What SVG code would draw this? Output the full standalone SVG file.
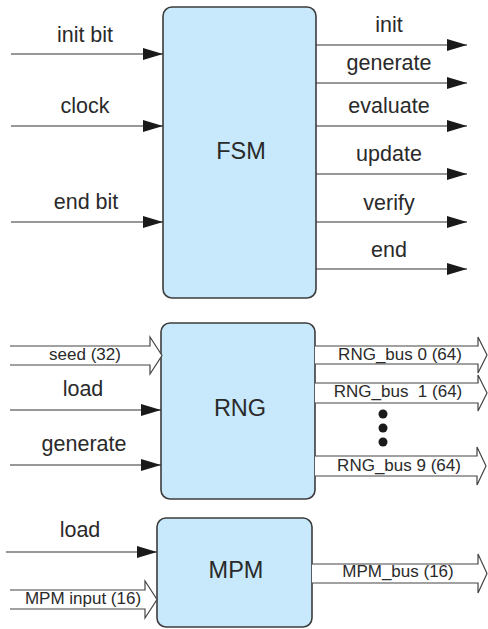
<svg xmlns="http://www.w3.org/2000/svg" width="488" height="629" viewBox="0 0 488 629">
<defs>
<marker id="arr" markerUnits="userSpaceOnUse" markerWidth="20" markerHeight="12" refX="20" refY="6" orient="auto">
<path d="M0,0 L20,6 L0,12 Z" fill="#1a1a1a"/>
</marker>
<style>
.box{fill:#c7e9fb;stroke:#3c3c3c;stroke-width:1.6}
.ttl{font-family:"Liberation Sans",Arial,sans-serif;font-size:23.5px;fill:#2a2a2a;text-anchor:middle}
.lbl{font-family:"Liberation Sans",Arial,sans-serif;font-size:21.5px;fill:#2a2a2a;text-anchor:middle}
.bl{font-family:"Liberation Sans",Arial,sans-serif;font-size:17px;fill:#2a2a2a;text-anchor:middle;white-space:pre}
.w{stroke:#333;stroke-width:1.2;fill:none}
.bus{stroke:#444;stroke-width:1.2;fill:#fff}
</style>
</defs>
<rect width="488" height="629" fill="#fff"/>

<g id="fsm">
<rect class="box" x="163" y="7" width="153" height="291" rx="9"/>
<text class="ttl" x="241" y="159">FSM</text>
</g>
<g id="rng">
<rect class="box" x="161" y="323" width="154" height="176" rx="9"/>
<text class="ttl" x="240" y="416">RNG</text>
</g>
<g id="mpm">
<rect class="box" x="157" y="518" width="155" height="109" rx="9"/>
<text class="ttl" x="236" y="578">MPM</text>
</g>

<g id="connectors">
<line class="w" x1="11" y1="54" x2="163" y2="54" marker-end="url(#arr)"/>
<line class="w" x1="11" y1="126" x2="163" y2="126" marker-end="url(#arr)"/>
<line class="w" x1="11" y1="222" x2="163" y2="222" marker-end="url(#arr)"/>
<line class="w" x1="316" y1="45" x2="467" y2="45" marker-end="url(#arr)"/>
<line class="w" x1="316" y1="83" x2="467" y2="83" marker-end="url(#arr)"/>
<line class="w" x1="316" y1="126" x2="467" y2="126" marker-end="url(#arr)"/>
<line class="w" x1="316" y1="174" x2="467" y2="174" marker-end="url(#arr)"/>
<line class="w" x1="316" y1="222" x2="467" y2="222" marker-end="url(#arr)"/>
<line class="w" x1="316" y1="269" x2="467" y2="269" marker-end="url(#arr)"/>
<path class="bus" d="M10,346 H150 V337 L162,355.5 L150,374 V365 H10"/>
<line class="w" x1="10" y1="410" x2="161" y2="410" marker-end="url(#arr)"/>
<line class="w" x1="10" y1="465" x2="161" y2="465" marker-end="url(#arr)"/>
<path class="bus" d="M315,346 H478 V337 L487,355 L478,373 V364 H315"/>
<path class="bus" d="M315,383 H478 V375 L487,393 L478,411 V403 H315"/>
<path class="bus" d="M315,456 H477 V447 L486,466 L477,485 V476 H315"/>
<circle cx="383" cy="414" r="4.5" fill="#1a1a1a"/>
<circle cx="383" cy="428" r="4.5" fill="#1a1a1a"/>
<circle cx="383" cy="442" r="4.5" fill="#1a1a1a"/>
<line class="w" x1="6" y1="552" x2="157" y2="552" marker-end="url(#arr)"/>
<path class="bus" d="M10,590 H145 V581 L157,599.5 L145,618 V609 H10"/>
<path class="bus" d="M312,564 H478 V554 L487,573.5 L478,593 V583 H312"/>
</g>

<g id="labels">
<text class="lbl" x="85" y="42">init bit</text>
<text class="lbl" x="85" y="113">clock</text>
<text class="lbl" x="86" y="209">end bit</text>
<text class="lbl" x="389" y="32">init</text>
<text class="lbl" x="389" y="70">generate</text>
<text class="lbl" x="389" y="113">evaluate</text>
<text class="lbl" x="389" y="161">update</text>
<text class="lbl" x="389" y="210">verify</text>
<text class="lbl" x="389" y="257">end</text>
<text class="bl" x="85" y="360">seed (32)</text>
<text class="lbl" x="83" y="396">load</text>
<text class="lbl" x="84" y="451">generate</text>
<text class="bl" x="400" y="360">RNG_bus 0 (64)</text>
<text class="bl" x="398" y="397">RNG_bus  1 (64)</text>
<text class="bl" x="399" y="471">RNG_bus 9 (64)</text>
<text class="lbl" x="80" y="537">load</text>
<text class="bl" x="83" y="604">MPM input (16)</text>
<text class="bl" x="398" y="577">MPM_bus (16)</text>
</g>
</svg>
